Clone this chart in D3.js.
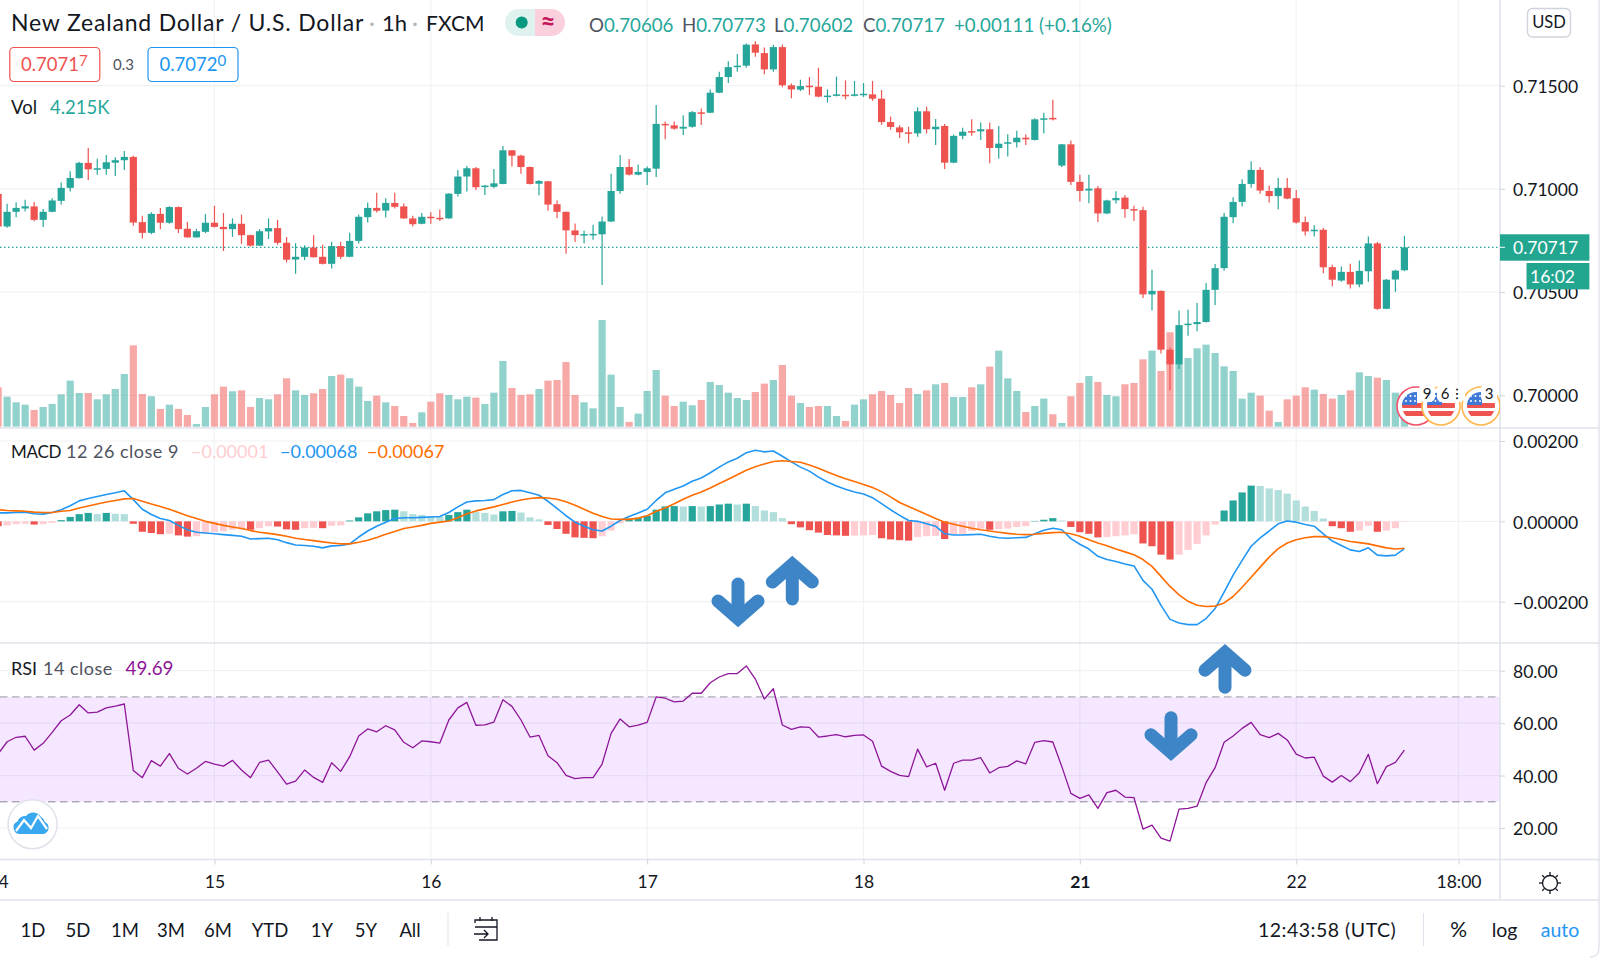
<!DOCTYPE html>
<html>
<head>
<meta charset="utf-8">
<title>NZD/USD 1h</title>
<script src="https://d3js.org/d3.v7.min.js"></script>
<style>
  html, body { margin: 0; padding: 0; background: #fff; overflow: hidden; }
  svg { display: block; }
  text { font-family: "Lato", "Open Sans", sans-serif; fill: #131722; }
  .axis .domain { display: none; }
  .axis line { stroke: #d1d4dc; }
  .axis text { font-size: 17.5px; fill: #131722; font-family: "Lato", sans-serif; }
</style>
</head>
<body>
<svg id="chart" width="1600" height="958"></svg>
<script>
// all prices are in 1e-5 units, so 70717 is 0.70717
const opens = [
  70976,70818,70889,70905,70915,70850,70889,70942,71005,71052,
  71126,71094,71097,71127,71139,71155,70839,70787,70879,70836,
  70912,70807,70765,70792,70836,70816,70805,70831,70776,70725,
  70794,70810,70739,70658,70671,70716,70671,70637,70723,70671,
  70748,70863,70908,70895,70932,70915,70857,70831,70865,70860,
  70857,70976,71060,71100,71011,71010,71024,71187,71161,71106,
  71025,71037,70926,70889,70799,70778,70778,70780,70842,70990,
  71106,71069,71082,71098,71315,71308,71292,71301,71371,71369,
  71466,71542,71590,71597,71700,71658,71579,71687,71502,71481,
  71500,71495,71448,71452,71456,71452,71456,71458,71437,71324,
  71298,71274,71269,71376,71289,71305,71127,71257,71280,71279,
  71289,71198,71221,71226,71248,71237,71337,71344,71113,71216,
  71034,70992,71003,70881,70945,70958,70902,70897,70489,70506,
  70221,70150,70340,70345,70355,70511,70616,70863,70937,71024,
  71092,70990,70965,71005,70955,70839,70795,70802,70621,70556,
  70598,70537,70601,70736,70419,70561,70606];
const highs = [
  70987,70928,70934,70947,70937,70903,70955,71031,71085,71132,
  71198,71146,71164,71153,71184,71161,70870,70887,70908,70916,
  70915,70840,70807,70879,70918,70883,70857,70875,70778,70805,
  70857,70850,70767,70737,70727,70776,70729,70744,70744,70787,
  70875,70934,70981,70955,70981,70929,70870,70883,70887,70900,
  70979,71092,71111,71106,71019,71097,71208,71189,71166,71108,
  71043,71038,70944,70890,70832,70797,70826,70866,71073,71164,
  71145,71118,71108,71407,71326,71327,71357,71378,71389,71482,
  71568,71619,71653,71705,71715,71685,71699,71700,71511,71529,
  71542,71587,71482,71544,71526,71523,71513,71523,71479,71350,
  71308,71301,71395,71398,71339,71315,71263,71296,71337,71322,
  71322,71305,71265,71282,71265,71342,71369,71432,71218,71235,
  71068,71068,71014,70947,70989,70971,70918,70913,70608,70508,
  70231,70411,70415,70447,70544,70636,70883,70960,71047,71134,
  71105,71016,71053,71053,70995,70866,70824,70810,70632,70624,
  70637,70653,70769,70743,70563,70608,70773];
const lows = [
  70815,70812,70863,70891,70843,70815,70887,70924,70987,71050,
  71043,71069,71068,71063,71092,70821,70760,70780,70804,70831,
  70786,70764,70764,70786,70813,70699,70768,70734,70721,70723,
  70757,70729,70644,70589,70655,70668,70634,70614,70660,70669,
  70736,70837,70886,70861,70905,70855,70818,70829,70831,70844,
  70855,70963,70987,70995,70971,71003,71022,71108,71073,71021,
  70969,70894,70858,70686,70743,70737,70754,70534,70840,70976,
  71065,71066,71019,71058,71240,71286,71261,71296,71310,71367,
  71463,71513,71568,71587,71640,71556,71568,71492,71439,71474,
  71455,71444,71418,71448,71434,71448,71445,71427,71311,71287,
  71247,71221,71253,71269,71213,71097,71124,71240,71257,71237,
  71124,71146,71157,71200,71213,71234,71269,71332,71106,71019,
  70939,70931,70840,70877,70929,70860,70845,70471,70411,70202,
  70024,70127,70289,70310,70353,70437,70604,70834,70915,71006,
  70976,70934,70902,70950,70831,70774,70769,70591,70528,70550,
  70518,70524,70550,70413,70417,70502,70602];
const closes = [
  70818,70889,70908,70916,70850,70889,70944,71005,71053,71126,
  71095,71100,71129,71139,71155,70837,70787,70879,70836,70912,
  70805,70765,70795,70836,70816,70805,70831,70776,70725,70795,
  70810,70739,70657,70671,70716,70669,70637,70723,70671,70748,
  70865,70908,70894,70932,70913,70857,70829,70865,70861,70857,
  70977,71060,71100,71008,71016,71027,71187,71161,71106,71024,
  71038,70924,70889,70799,70776,70781,70782,70842,70990,71106,
  71069,71082,71100,71315,71308,71292,71301,71372,71367,71466,
  71542,71590,71597,71699,71660,71579,71687,71502,71482,71498,
  71497,71447,71452,71458,71452,71458,71461,71437,71324,71300,
  71274,71271,71376,71289,71301,71127,71257,71277,71274,71289,
  71198,71219,71226,71248,71240,71337,71342,71339,71216,71034,
  70990,71001,70881,70944,70956,70902,70895,70489,70506,70221,
  70150,70340,70347,70355,70511,70616,70865,70937,71024,71092,
  70992,70965,71005,70953,70837,70794,70802,70620,70560,70598,
  70537,70603,70736,70419,70560,70604,70717];

// volume in thousands
const volumes = [
  4.86,3.66,2.94,2.64,1.96,2.34,2.73,3.96,5.71,4.13,
  4.13,3.32,3.96,4.64,6.56,10.22,4.00,3.71,2.09,2.64,
  2.09,1.32,0.17,2.34,3.96,4.94,4.35,4.47,2.34,3.49,
  3.32,3.96,6.01,4.47,3.88,4.09,4.64,6.30,6.48,6.01,
  4.94,3.11,3.79,2.94,2.47,1.19,0.30,1.66,3.02,4.09,
  3.88,3.32,3.66,3.54,2.73,4.17,8.22,4.77,3.88,3.96,
  4.64,5.71,5.79,8.09,3.88,2.94,2.17,13.46,6.48,2.34,
  0.43,1.49,4.39,7.07,3.79,2.47,3.02,2.56,3.24,5.54,
  5.15,4.17,3.49,3.24,4.26,5.33,5.79,7.71,3.79,2.85,
  2.34,2.47,2.47,1.19,0.55,2.64,3.32,3.96,4.39,3.88,
  2.85,4.77,4.00,4.47,5.24,5.41,3.62,3.62,4.86,5.24,
  7.50,9.54,6.01,4.39,1.70,2.47,3.41,1.41,0.30,3.71,
  5.41,6.30,5.54,3.88,3.71,5.24,5.41,8.43,9.54,6.94,
  11.89,7.92,8.61,9.84,10.31,9.24,7.54,6.94,3.41,4.17,
  3.79,1.87,0.43,3.32,3.79,4.86,4.56,4.00,3.41,3.88,
  4.47,6.77,6.30,6.09,5.79,4.17,4.215];

// MACD values, also in 1e-5 units
const histogram = [
  -12,-10,-7,-6,-8,-7,-4,3,11,18,
  21,18,21,19,18,-6,-26,-29,-32,-31,
  -35,-38,-37,-28,-27,-25,-21,-20,-21,-17,
  -12,-13,-20,-21,-17,-16,-17,-11,-10,2,
  10,20,25,28,29,25,18,16,13,12,
  16,23,29,23,21,17,25,26,22,10,
  5,-9,-19,-31,-40,-41,-42,-37,-23,-5,
  7,9,14,29,37,38,37,38,37,38,
  42,44,42,44,38,27,23,8,-7,-15,
  -22,-28,-34,-35,-36,-35.5,-35,-34,-42,-45,
  -47,-48,-39,-37,-36,-44,-32,-31,-24,-18,
  -21,-19,-18,-14,-12,1,4,8,2,-14,
  -27,-31,-40,-39,-37,-35,-32,-55,-62,-83,
  -95,-83,-71,-56,-35,-8,27,52,72,89,
  88,82,78,69,52,37,26,7,-12,-17,
  -26,-23,-11,-26,-23,-17,-1];
const macdLine = [
  21,21,22,23,19,18,22,29,39,51,
  57,62,67,71,76,54,30,17,7,2,
  -10,-21,-27,-29,-31,-33,-35,-37,-44,-43,
  -42,-46,-53,-59,-60,-62,-66,-61,-60,-56,
  -39,-24,-12,-2,7,9,9,10,11,12,
  22,36,48,51,52,54,67,76,77,71,
  65,50,32,14,-2,-12,-21,-24,-12,2,
  12,21,30,52,71,80,88,100,108,121,
  135,148,157,171,177,173,175,162,148,135,
  125,110,98,88,80,73,68,59,44,29,
  15,2,0,-6,-12,-31,-34,-34,-33,-32,
  -37,-41,-42,-41,-40,-31,-22,-17,-21,-43,
  -57,-69,-87,-95,-100,-106,-111,-147,-169,-209,
  -244,-253,-257,-257,-242,-217,-176,-134,-97,-62,
  -41,-24,-6,1,-2,-8,-12,-31,-49,-60,
  -71,-75,-66,-84,-86,-84,-68];
const signalLine = [
  29,27,26,25,23,22,22,25,27,33,
  38,43,48,52,56,57,50,43,37,30,
  22,14,7,0,-5,-10,-14,-18,-23,-27,
  -30,-33,-37,-42,-45,-48,-51,-54,-56,-56,
  -52,-47,-40,-32,-25,-18,-14,-10,-5,-2,
  1,9,19,26,31,36,42,48,53,57,
  59,58,55,49,40,30,20,12,6,5,
  5,8,14,25,33,44,55,65,73,83,
  94,105,116,127,136,143,149,151,149,147,
  140,132,123,114,106,99,92,84,74,61,
  47,37,27,17,7,-2,-7,-12,-17,-21,
  -24,-27,-30,-32,-33,-32,-30,-28,-27,-31,
  -37,-46,-54,-61,-69,-76,-83,-95,-112,-137,
  -162,-183,-199,-209,-212,-211,-203,-187,-164,-139,
  -114,-89,-68,-54,-46,-41,-38,-38,-41,-45,
  -50,-53,-56,-61,-66,-69,-67];
const rsiLine = [
  48.2,52.9,54.6,55.0,49.7,52.3,56.5,60.9,63.1,67.0,
  63.9,64.2,65.8,66.5,67.3,41.9,39.2,45.7,43.6,48.4,
  42.8,40.6,42.8,45.4,44.4,43.6,45.8,42.1,39.2,45.0,
  45.9,41.4,36.7,37.9,42.1,39.3,37.4,44.9,41.6,47.2,
  55.1,57.8,56.7,59.0,57.4,52.7,50.6,53.2,52.9,52.4,
  61.2,65.8,67.9,59.2,59.3,60.4,68.9,66.4,61.2,54.7,
  55.3,47.6,44.9,40.1,38.8,39.2,39.2,44.4,56.1,61.6,
  58.6,59.2,60.3,70.0,69.5,68.1,68.4,71.4,71.4,75.4,
  77.6,78.9,78.9,81.8,76.8,69.2,73.1,59.3,57.6,58.6,
  58.4,54.7,55.1,55.6,54.8,55.3,55.5,53.1,43.6,41.6,
  40.1,39.6,50.1,43.3,44.7,34.4,44.7,45.9,45.9,46.8,
  41.0,43.0,43.5,45.6,44.5,52.7,53.3,52.8,43.4,33.2,
  31.3,32.6,27.5,33.5,34.4,31.8,31.6,19.6,21.1,16.1,
  15.0,27.2,27.5,28.3,37.3,43.0,52.7,55.1,58.0,60.3,
  55.6,54.5,56.1,53.6,48.2,46.7,47.0,39.8,37.5,40.0,
  37.7,41.1,48.1,36.9,43.4,45.0,49.69];

// axis ticks
const timeTickBars = [0, 24, 48, 72, 96, 120, 144, 162];
const timeTickLabels = ["14", "15", "16", "17", "18", "21", "22", "18:00"];
const priceTicks = [70000, 70500, 71000, 71500];
const macdTicks = [-200, 0, 200];
const rsiTicks = [20, 40, 60, 80];
const rangeButtons = ["1D", "5D", "1M", "3M", "6M", "YTD", "1Y", "5Y", "All"];

const UP = "#26a69a", DOWN = "#ef5350", GRID = "#f1f2f4", LINE = "#e0e3eb";
const BLUE = "#2196f3", ORANGE = "#ff6d00", PURPLE = "#8e1599", GRAY = "#50535e";
const ARROW = "#3d85c6";

const svg = d3.select("#chart");
const bars = d3.range(closes.length);
const chartRight = 1500;

// one shared bar scale for all three panes
const x = d3.scaleLinear().domain([0, 162]).range([-1.9, 1458.5]);
const priceY = d3.scaleLinear().domain([70000, 71500]).range([395.3, 85.7]);
const volY = d3.scaleLinear().domain([0, 13.46]).range([425.3, 320]);
const macdY = d3.scaleLinear().domain([-200, 200]).range([601.7, 441]);
const rsiY = d3.scaleLinear().domain([20, 80]).range([828, 670.7]);

const bodyW = 7.2;

// gridlines first, everything else goes on top
const grid = svg.append("g").attr("stroke", GRID).attr("stroke-width", 1.2);
grid.selectAll("line.v").data(timeTickBars.slice(1)).join("line")
  .attr("x1", d => x(d)).attr("x2", d => x(d)).attr("y1", 0).attr("y2", 859);
function hGrid(ticks, scale) {
  grid.append("g").selectAll("line").data(ticks).join("line")
    .attr("x1", 0).attr("x2", chartRight).attr("y1", d => scale(d)).attr("y2", d => scale(d));
}
hGrid(priceTicks, priceY);
hGrid(macdTicks, macdY);
hGrid(rsiTicks, rsiY);

// volume
svg.append("g").selectAll("rect").data(bars).join("rect")
  .attr("x", i => x(i) - bodyW / 2)
  .attr("width", bodyW)
  .attr("y", i => volY(volumes[i]))
  .attr("height", i => 426.7 - volY(volumes[i]))
  .attr("fill", i => closes[i] >= opens[i] ? UP : DOWN)
  .attr("opacity", 0.5);

// dotted last price line
svg.append("line").attr("x1", 0).attr("x2", chartRight)
  .attr("y1", priceY(closes[156])).attr("y2", priceY(closes[156]))
  .attr("stroke", UP).attr("stroke-width", 1.2).attr("stroke-dasharray", "1.5,2.5");

// candles
const candles = svg.append("g");
candles.selectAll("line").data(bars).join("line")
  .attr("x1", i => x(i)).attr("x2", i => x(i))
  .attr("y1", i => priceY(highs[i])).attr("y2", i => priceY(lows[i]))
  .attr("stroke", i => closes[i] >= opens[i] ? UP : DOWN)
  .attr("stroke-width", 1.2);
candles.selectAll("rect").data(bars).join("rect")
  .attr("x", i => x(i) - bodyW / 2)
  .attr("width", bodyW)
  .attr("y", i => priceY(Math.max(opens[i], closes[i])))
  .attr("height", i => Math.max(1.5, Math.abs(priceY(opens[i]) - priceY(closes[i]))))
  .attr("fill", i => closes[i] >= opens[i] ? UP : DOWN);

// macd pane
function histColor(i) {
  const v = histogram[i], prev = i > 0 ? histogram[i - 1] : v + 1;
  if (v >= 0) return v > prev ? UP : "#b2dfdb";
  return v < prev ? DOWN : "#ffcdd2";
}
svg.append("g").selectAll("rect").data(bars).join("rect")
  .attr("x", i => x(i) - bodyW / 2)
  .attr("width", bodyW)
  .attr("y", i => Math.min(macdY(0), macdY(histogram[i])))
  .attr("height", i => Math.abs(macdY(histogram[i]) - macdY(0)))
  .attr("fill", histColor);

function drawLine(values, scale, color, width) {
  const line = d3.line().x((d, i) => x(i)).y(d => scale(d));
  svg.append("path").attr("d", line(values)).attr("fill", "none")
    .attr("stroke", color).attr("stroke-width", width).attr("stroke-linejoin", "round");
}
drawLine(macdLine, macdY, BLUE, 1.6);
drawLine(signalLine, macdY, ORANGE, 1.6);

// rsi pane
svg.append("rect").attr("x", 0).attr("width", chartRight)
  .attr("y", rsiY(70)).attr("height", rsiY(30) - rsiY(70))
  .attr("fill", "#9915ff").attr("opacity", 0.1);
[70, 30].forEach(v => {
  svg.append("line").attr("x1", 0).attr("x2", chartRight)
    .attr("y1", rsiY(v)).attr("y2", rsiY(v))
    .attr("stroke", "#787b86").attr("stroke-opacity", 0.6)
    .attr("stroke-width", 1.4).attr("stroke-dasharray", "7.5,4.5");
});
drawLine(rsiLine, rsiY, PURPLE, 1.3);

// pane borders
const borders = [[0, 428, 1600, 428], [0, 643, 1600, 643], [0, 859.5, 1600, 859.5], [0, 900, 1600, 900], [chartRight, 0, chartRight, 900]];
svg.append("g").selectAll("line").data(borders).join("line")
  .attr("x1", d => d[0]).attr("y1", d => d[1]).attr("x2", d => d[2]).attr("y2", d => d[3])
  .attr("stroke", LINE).attr("stroke-width", 1.6);
svg.append("path").attr("d", "M1599,0V948Q1599,957 1590,957").attr("fill", "none")
  .attr("stroke", LINE).attr("stroke-width", 1.4);

// event flags on the volume pane, clipped at the pane bottom
svg.append("clipPath").attr("id", "paneClip").append("rect")
  .attr("x", 1380).attr("y", 380).attr("width", 120).attr("height", 46);
const flags = svg.append("g").attr("clip-path", "url(#paneClip)");
function flagIcon(cx, cy, ring, id) {
  svg.append("clipPath").attr("id", id).append("circle").attr("cx", cx).attr("cy", cy).attr("r", 14);
  const g = flags.append("g");
  g.append("circle").attr("cx", cx).attr("cy", cy).attr("r", 19).attr("fill", "#fff")
    .attr("stroke", ring).attr("stroke-width", 1.6);
  const f = g.append("g").attr("clip-path", `url(#${id})`);
  f.append("rect").attr("x", cx - 14).attr("y", cy - 14).attr("width", 28).attr("height", 6).attr("fill", "#fff");
  f.append("rect").attr("x", cx - 14).attr("y", cy - 3).attr("width", 28).attr("height", 5).attr("fill", "#ef5350");
  f.append("rect").attr("x", cx - 14).attr("y", cy + 5).attr("width", 28).attr("height", 5).attr("fill", "#ef5350");
  f.append("rect").attr("x", cx - 14).attr("y", cy - 14).attr("width", 15).attr("height", 13).attr("fill", "#3f78d6");
  d3.range(6).forEach(k => {
    f.append("circle").attr("cx", cx - 10 + (k % 3) * 4.5).attr("cy", cy - 10 + Math.floor(k / 3) * 5)
      .attr("r", 1).attr("fill", "#fff");
  });
}
flagIcon(1416, 406, "#f4506a", "fl1");
flagIcon(1441, 406, "#ffb74d", "fl2");
flagIcon(1481, 406, "#ffb74d", "fl3");
[[1427, "9"], [1445, "6"], [1457, "⁝"], [1489, "3"]].forEach(d => {
  flags.append("rect").attr("x", d[0] - 8).attr("y", 384).attr("width", 16).attr("height", 18)
    .attr("rx", 5).attr("fill", "#fff");
  flags.append("text").attr("x", d[0]).attr("y", 399).attr("text-anchor", "middle")
    .attr("font-size", 15).text(d[1]);
});

// y axes
function rightAxis(scale, ticks, fmt) {
  const g = svg.append("g").attr("class", "axis")
    .attr("transform", `translate(${chartRight},0)`)
    .call(d3.axisRight(scale).tickValues(ticks).tickSize(5).tickPadding(8).tickFormat(fmt));
  g.selectAll("text").attr("dy", ".38em");
}
rightAxis(priceY, priceTicks, d => (d / 1e5).toFixed(5));
rightAxis(macdY, macdTicks, d => (d < 0 ? "\u2212" : "") + Math.abs(d / 1e5).toFixed(5));
rightAxis(rsiY, rsiTicks, d => d.toFixed(2));

// time axis
const timeAxis = svg.append("g").attr("class", "axis")
  .attr("transform", "translate(0,859.5)")
  .call(d3.axisBottom(x).tickValues(timeTickBars).tickSize(5).tickPadding(11)
    .tickFormat((d, i) => timeTickLabels[i]));
timeAxis.selectAll("text").filter(d => d === 120).attr("font-weight", 700);

// text helper for the chart furniture
function label(str, px, py, size, color, anchor, spacing) {
  return svg.append("text").attr("x", px).attr("y", py).attr("font-size", size)
    .attr("text-anchor", anchor || "start").style("fill", color || "#131722")
    .style("letter-spacing", (spacing || 0) + "px").text(str);
}

// last price tags
svg.append("rect").attr("x", 1500).attr("y", 234.3).attr("width", 89.4).attr("height", 26.4).attr("fill", "#22a68f");
svg.append("rect").attr("x", 1526.5).attr("y", 263).attr("width", 62.9).attr("height", 26.4).attr("fill", "#22a68f");
svg.append("line").attr("x1", 1500).attr("x2", 1505).attr("y1", priceY(closes[156])).attr("y2", priceY(closes[156])).attr("stroke", "#fff");
label((closes[156] / 1e5).toFixed(5), 1513, 254, 17.5, "#fff");
label("16:02", 1575, 283, 17.5, "#fff", "end");

// header
label("New Zealand Dollar / U.S. Dollar", 11, 31, 23, "#131722", "start", 0.8);
label("·", 372, 31, 23, "#b2b5be", "middle");
label("1h", 382, 31, 22);
label("·", 415, 31, 23, "#b2b5be", "middle");
label("FXCM", 426, 31, 21);

svg.append("path").attr("d", "M535,9H518.5A13.5,13.5 0 0 0 518.5,36H535Z").attr("fill", "#dff2f0");
svg.append("path").attr("d", "M535,9H551.5A13.5,13.5 0 0 1 551.5,36H535Z").attr("fill", "#fbd0dd");
svg.append("circle").attr("cx", 521.7).attr("cy", 22.6).attr("r", 6).attr("fill", "#089981");
label("≈", 548, 31, 26, "#c2185b", "middle").attr("font-weight", 700);

const ohlc = [["O", opens[156], 589], ["H", highs[156], 682], ["L", lows[156], 774], ["C", closes[156], 863]];
ohlc.forEach(d => {
  const t = label(d[0], d[2], 31.5, 18.7, GRAY);
  t.append("tspan").style("fill", UP).text((d[1] / 1e5).toFixed(5));
});
label("+0.00111 (+0.16%)", 954, 31.5, 18.7, UP);

// sell and buy boxes
svg.append("rect").attr("x", 9.8).attr("y", 47.5).attr("width", 90).attr("height", 34).attr("rx", 4)
  .attr("fill", "#fff").attr("stroke", DOWN).attr("stroke-width", 1.2);
svg.append("rect").attr("x", 148).attr("y", 47.5).attr("width", 90).attr("height", 34).attr("rx", 4)
  .attr("fill", "#fff").attr("stroke", BLUE).attr("stroke-width", 1.2);
function quote(str, sup, px, color) {
  const t = label(str, px, 71, 18.5, color);
  t.append("tspan").attr("font-size", 15).attr("dy", -5).style("fill", color).text(sup);
}
quote("0.7071", "7", 21, DOWN);
quote("0.7072", "0", 159.5, BLUE);
label("0.3", 123.5, 70, 15, GRAY, "middle");

label("Vol", 11, 114, 18.5);
label("4.215K", 50, 114, 18.5, UP);

svg.append("rect").attr("x", 1527.5).attr("y", 8.5).attr("width", 43).attr("height", 28.5).attr("rx", 5)
  .attr("fill", "#fff").attr("stroke", "#d1d4dc").attr("stroke-width", 1.4);
label("USD", 1549, 28, 16.5, "#131722", "middle");

// pane legends
label("MACD", 11, 458, 17, "#131722", "start", -0.3);
label("12 26 close 9", 66, 458, 18, GRAY, "start", 0.5);
label("\u22120.00001", 191, 458, 18, "#ffcdd2");
label("\u22120.00068", 280, 458, 18, BLUE);
label("\u22120.00067", 367, 458, 18, ORANGE);
label("RSI", 11, 675, 18);
label("14 close", 43, 675, 18, GRAY, "start", 0.5);
label("49.69", 125.5, 675, 18.8, PURPLE);

// hand drawn arrows on top of the chart
function arrow(px, py, rot) {
  const g = svg.append("g").attr("transform", `translate(${px},${py}) rotate(${rot})`)
    .attr("fill", "none").attr("stroke", ARROW).attr("stroke-width", 13);
  g.append("path").attr("d", "M0,-10V18.5").attr("stroke-linecap", "round");
  g.append("path").attr("d", "M-20,1.5L0,-16L20,1.5").attr("stroke-linecap", "round").attr("stroke-linejoin", "miter");
}
arrow(738, 602.5, 180);
arrow(792.3, 580.5, 0);
arrow(1225, 668.7, 0);
arrow(1171, 736.3, 180);

// logo
svg.append("circle").attr("cx", 32.6).attr("cy", 824.3).attr("r", 24.5).attr("fill", "#fff")
  .attr("stroke", LINE).attr("stroke-width", 1.6);
svg.append("path")
  .attr("d", "M20,834A6.5,6.5 0 0 1 17.5,821.5A8,8 0 0 1 26,816A9,9 0 0 1 41,817A8,8 0 0 1 45,822A6.5,6.5 0 0 1 44,834Z")
  .attr("fill", "#3aa8ee");
svg.append("path").attr("d", "M16,831L24,820L31,828L38,816L47,829").attr("fill", "none")
  .attr("stroke", "#fff").attr("stroke-width", 2.2);

// sun icon in the corner of the time axis
const sun = svg.append("g").attr("transform", "translate(1550,883)").attr("stroke", "#131722")
  .attr("stroke-width", 1.3).attr("fill", "none");
sun.append("circle").attr("r", 7.5);
d3.range(8).forEach(k => {
  const a = k * Math.PI / 4 + Math.PI / 2;
  sun.append("line").attr("x1", Math.cos(a) * 8).attr("y1", Math.sin(a) * 8)
    .attr("x2", Math.cos(a) * 11).attr("y2", Math.sin(a) * 11);
});

// bottom toolbar
const buttonX = [33, 78, 125, 171, 218, 270, 322, 366, 410];
svg.append("g").selectAll("text").data(rangeButtons).join("text")
  .attr("x", (d, i) => buttonX[i]).attr("y", 937).attr("text-anchor", "middle")
  .attr("font-size", 18.5).text(d => d);
svg.append("line").attr("x1", 448).attr("x2", 448).attr("y1", 913).attr("y2", 946).attr("stroke", LINE);
svg.append("path").attr("d", "M475,923V920H497V940H489M475,927H497M480,917V921M492,917V921M474,934H488M484,930L488,934L484,938M479,940H489")
  .attr("fill", "none").attr("stroke", "#131722").attr("stroke-width", 1.3);
label("12:43:58 (UTC)", 1258, 937, 19.5, "#131722", "start", 0.5);
svg.append("line").attr("x1", 1423.5).attr("x2", 1423.5).attr("y1", 913).attr("y2", 946).attr("stroke", LINE);
label("%", 1458.7, 937, 21, "#131722", "middle");
label("log", 1504.6, 937, 19.5, "#131722", "middle");
label("auto", 1560, 937, 19.5, BLUE, "middle");
</script>
</body>
</html>
